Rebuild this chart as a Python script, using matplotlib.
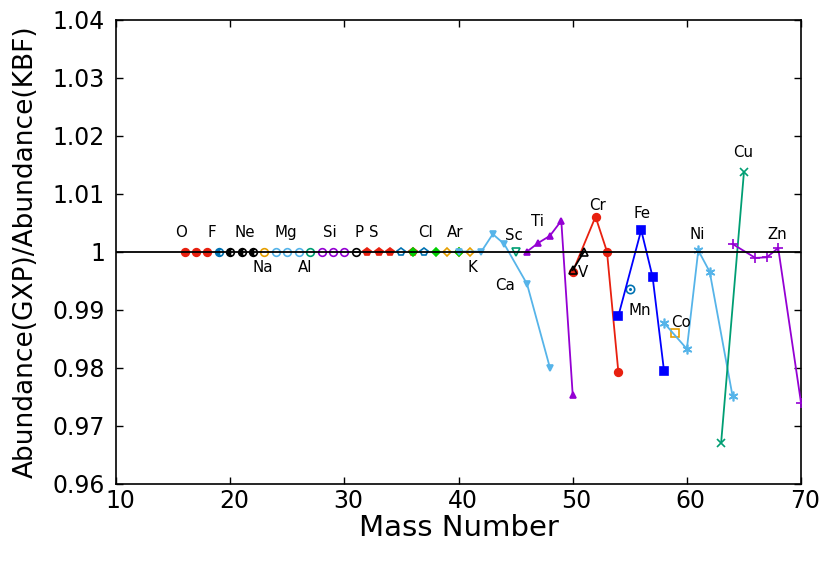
import matplotlib
matplotlib.use("Agg")
import matplotlib.pyplot as plt
import matplotlib.transforms as mtransforms
from matplotlib.ticker import FuncFormatter, FixedLocator

plt.rcParams['font.family'] = ['DejaVu Sans']

# ---- data: mass numbers and abundance ratios ----
O_A = [16, 17, 18];            O_R = [1.0, 1.0, 1.0]
F_A = [19];                    F_R = [1.0]
Ne_A = [20, 21, 22];           Ne_R = [1.0, 1.0, 1.0]
Na_A = [23];                   Na_R = [1.0]
Mg_A = [24, 25, 26];           Mg_R = [1.0, 1.0, 1.0]
Al_A = [27];                   Al_R = [1.0]
Si_A = [28, 29, 30];           Si_R = [1.0, 1.0, 1.0]
P_A = [31];                    P_R = [1.0]
S_A = [32, 33, 34, 36];        S_R = [1.0, 1.0, 1.0, 1.0]
Cl_A = [35, 37];               Cl_R = [1.0, 1.0]
Ar_A = [36, 38, 40];           Ar_R = [1.0, 1.0, 1.0]
K_A = [39, 40, 41];            K_R = [1.0, 1.0, 1.0]
Ca_A = [40, 42, 43, 44, 46, 48]
Ca_R = [1.0, 1.0, 1.0030, 1.0013, 0.9944, 0.9800]
Sc_A = [45];                   Sc_R = [1.0]
Ti_A = [46, 47, 48, 49, 50];   Ti_R = [1.0, 1.0015, 1.0027, 1.0053, 0.9753]
V_A = [50, 51];                V_R = [0.9968, 1.0]
Cr_A = [50, 52, 53, 54];       Cr_R = [0.9965, 1.0060, 1.0, 0.9792]
Mn_A = [55];                   Mn_R = [0.9935]
Fe_A = [54, 56, 57, 58];       Fe_R = [0.9889, 1.0037, 0.9956, 0.9794]
Co_A = [59];                   Co_R = [0.9859]
Ni_A = [58, 60, 61, 62, 64];   Ni_R = [0.9877, 0.9832, 1.0002, 0.9965, 0.9751]
Cu_A = [63, 65];               Cu_R = [0.9670, 1.0137]
Zn_A = [64, 66, 67, 68, 70];   Zn_R = [1.0013, 0.9989, 0.9990, 1.0006, 0.9739]

x_ticks = [10, 20, 30, 40, 50, 60, 70]
y_ticks = [0.96, 0.97, 0.98, 0.99, 1.0, 1.01, 1.02, 1.03, 1.04]

# element labels: (text, x, y)
labels = [
    ("O", 15.69, 1.0032), ("F", 18.41, 1.0032), ("Ne", 21.30, 1.0032),
    ("Mg", 24.89, 1.0032), ("Si", 28.74, 1.0032), ("P", 31.28, 1.0032),
    ("S", 32.60, 1.0032), ("Cl", 37.07, 1.0032), ("Ar", 39.69, 1.0032),
    ("Na", 22.88, 0.9972), ("Al", 26.55, 0.9972), ("K", 41.18, 0.9972),
    ("Sc", 44.86, 1.0028), ("Ca", 44.07, 0.9941), ("Ti", 46.96, 1.0051),
    ("V", 50.94, 0.9963), ("Cr", 52.17, 1.0080), ("Mn", 55.90, 0.9899),
    ("Fe", 56.07, 1.0066), ("Co", 59.49, 0.9878), ("Ni", 60.89, 1.0030),
    ("Cu", 64.92, 1.0170), ("Zn", 67.90, 1.0030),
]

RED = '#e8200f'
BLUE = '#0072b2'
LBLUE = '#56b4e9'
ORANGE = '#e69f00'
GREEN = '#009e73'
PURPLE = '#9400d3'
BGREEN = '#00d000'
FEBLUE = '#0000ff'

fig = plt.figure(figsize=(8.3, 5.81), dpi=100)
ax = fig.add_axes([0.1398, 0.1678, 0.9651 - 0.1398, 0.9664 - 0.1678])

ax.axhline(1.0, color='black', lw=1.3, zorder=5)

lw = 1.3
def plot(A, R, color, marker, ms=5.5, mfc=None, line=True, zorder=3, **kw):
    ax.plot(A, R, color=color, lw=lw if line else 0, marker=marker, ms=ms,
            mfc=mfc if mfc is not None else color, mec=color, mew=1.2,
            zorder=zorder, **kw)

plot(O_A, O_R, RED, 'o', line=False)
plot(F_A, F_R, BLUE, 'o', line=False, fillstyle='left', markerfacecoloralt='white')
plot(Ne_A, Ne_R, 'black', 'o', line=False, fillstyle='left', markerfacecoloralt='white')
plot(Na_A, Na_R, ORANGE, 'o', mfc='none', line=False)
plot(Mg_A, Mg_R, LBLUE, 'o', mfc='none', line=False)
plot(Al_A, Al_R, GREEN, 'o', mfc='none', line=False)
plot(Si_A, Si_R, PURPLE, 'o', mfc='none', line=False)
plot(P_A, P_R, 'black', 'o', mfc='none', line=False)
plot(P_A, P_R, 'black', '_', line=False, ms=5)
plot(S_A, S_R, RED, 'p', line=False)
plot(Cl_A, Cl_R, BLUE, 'p', mfc='none', line=False)
plot(K_A, K_R, ORANGE, 'D', mfc='none', line=False, ms=4.5)
plot(Ar_A, Ar_R, BGREEN, 'D', line=False, ms=4)
plot(Ca_A, Ca_R, LBLUE, 'v', ms=5)
plot(Sc_A, Sc_R, GREEN, 'v', mfc='none', line=False, ms=5.5)
plot(Ti_A, Ti_R, PURPLE, '^', ms=5)
plot(Cr_A, Cr_R, RED, 'o', ms=5.5)
plot(V_A, V_R, 'black', '^', mfc='none', ms=5.5)
plot(Mn_A, Mn_R, BLUE, 'o', mfc='none', line=False, ms=6)
plot(Mn_A, Mn_R, BLUE, '.', line=False, ms=2)
plot(Fe_A, Fe_R, FEBLUE, 's', ms=5.5)
plot(Co_A, Co_R, ORANGE, 's', mfc='none', line=False, ms=6)
plot(Ni_A, Ni_R, LBLUE, (6, 2, 0), ms=7)
plot(Cu_A, Cu_R, GREEN, 'x', ms=6)
plot(Zn_A, Zn_R, PURPLE, '+', ms=7)

for t, x, y in labels:
    ax.text(x, y, t, ha='center', va='center', fontsize=10.8)

ax.set_xlim(10, 70)
ax.set_ylim(0.96, 1.04)
ax.xaxis.set_major_locator(FixedLocator(x_ticks))
ax.yaxis.set_major_locator(FixedLocator(y_ticks))
ax.yaxis.set_major_formatter(FuncFormatter(lambda v, p: f"{v:g}"))
ax.tick_params(direction='in', length=5, width=1, top=True, right=True,
               labelsize=17)
ax.tick_params(axis='x', pad=4)
ax.tick_params(axis='y', pad=8)
for s in ax.spines.values():
    s.set_linewidth(1.2)

offset = mtransforms.ScaledTranslation(4 / 100, 0, fig.dpi_scale_trans)
for lab in ax.get_xticklabels():
    lab.set_transform(lab.get_transform() + offset)

ax.set_xlabel("Mass Number", fontsize=21, labelpad=1)
ax.set_ylabel("Abundance(GXP)/Abundance(KBF)", fontsize=19, labelpad=10)

fig.savefig("out.png", dpi=100)
